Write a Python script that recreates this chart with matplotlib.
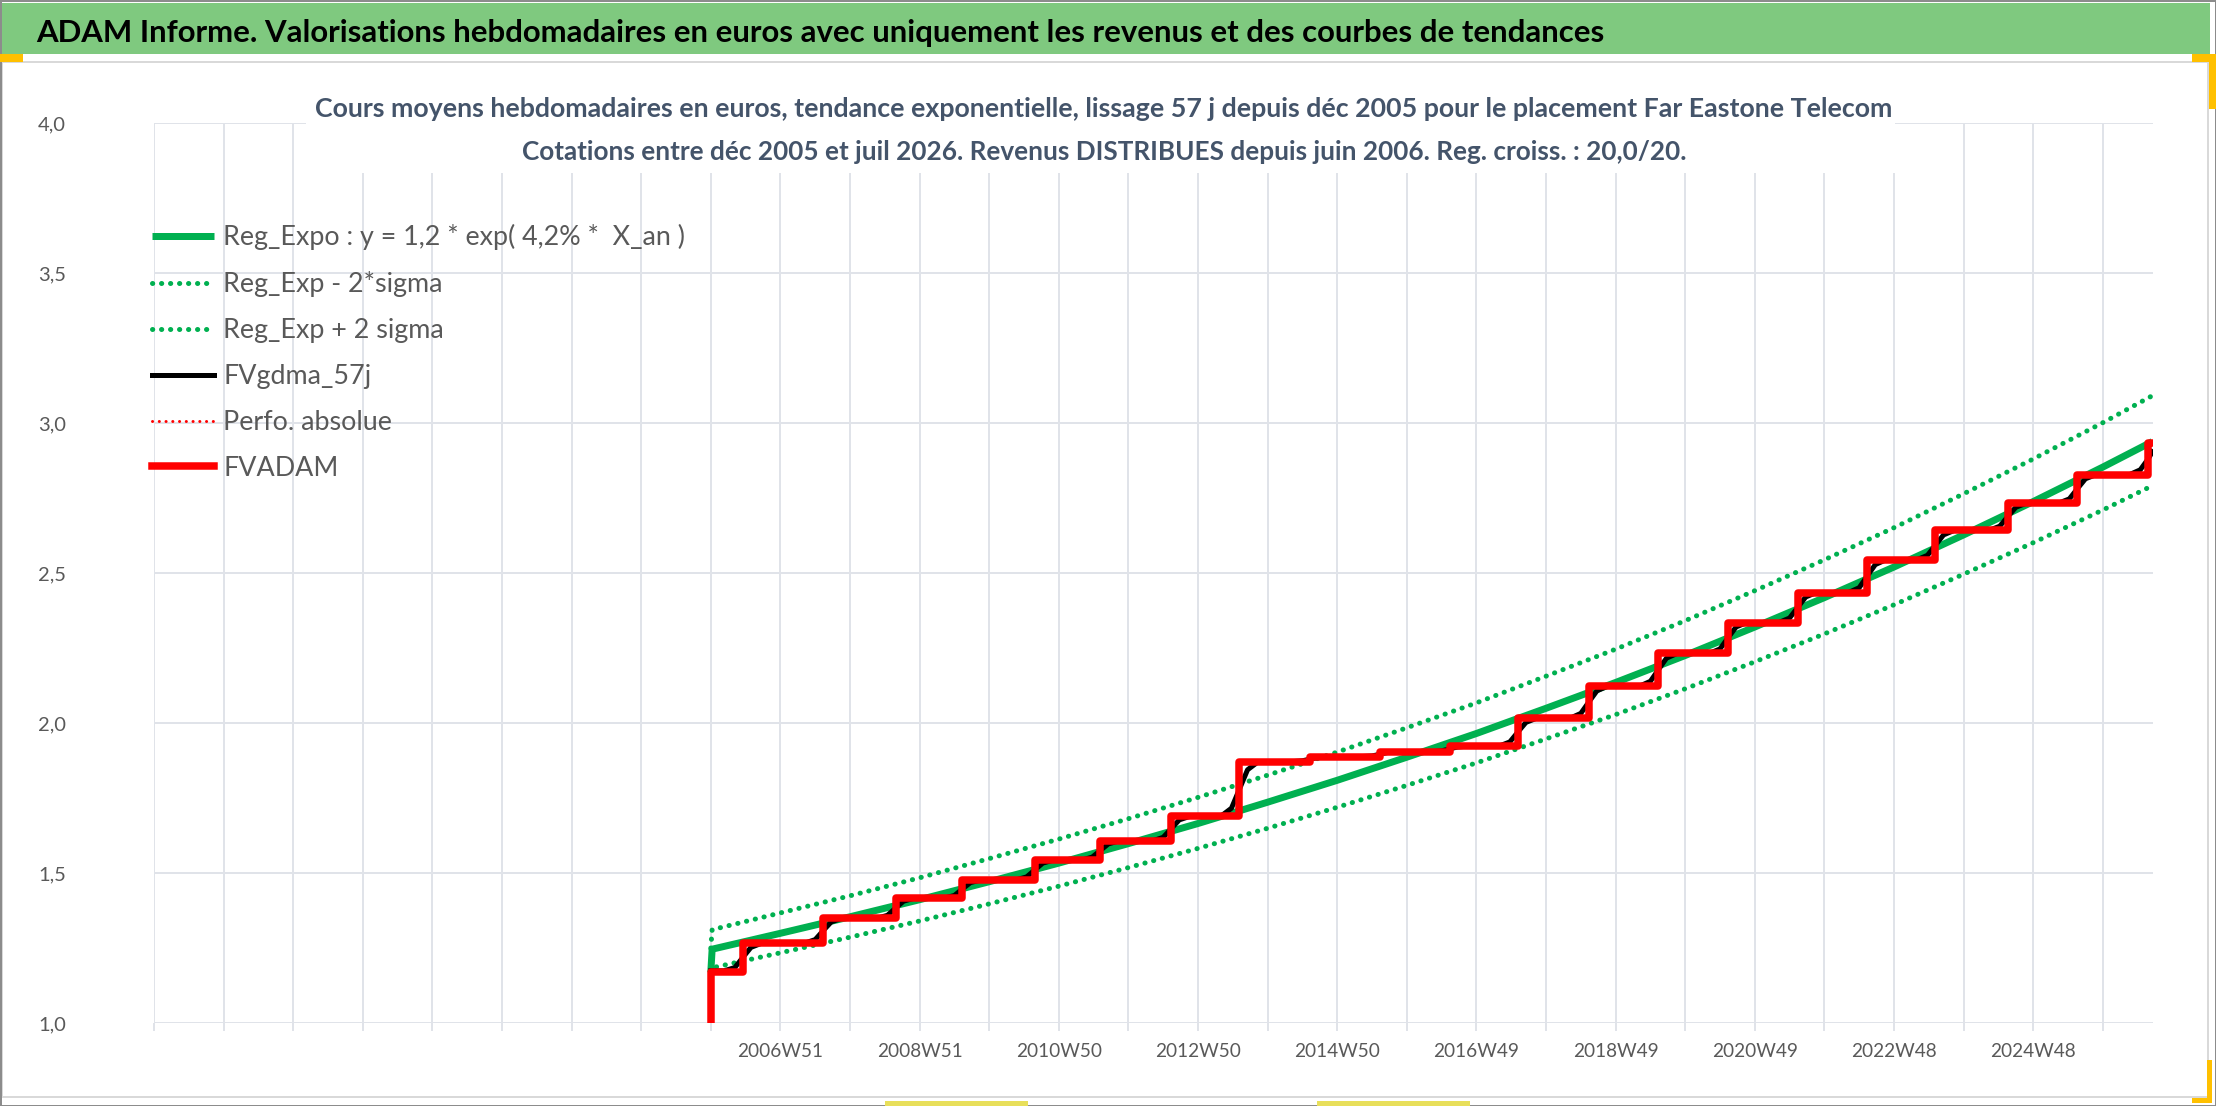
import numpy as np
import matplotlib
matplotlib.use("Agg")
import matplotlib.pyplot as plt
from matplotlib.patches import Rectangle

plt.rcParams['font.family'] = ['Lato', 'DejaVu Sans']

W, H = 2216, 1106  # output size in pixels

# category axis: one slot per week, slot 0 = 1997W51 (weeks before the quotes are empty)
n_weeks = 1494
grid_weeks = list(range(0, 1457, 52))
label_weeks = [468, 572, 676, 780, 884, 988, 1092, 1196, 1300, 1404]
week_labels = ["2006W51", "2008W51", "2010W50", "2012W50", "2014W50",
               "2016W49", "2018W49", "2020W49", "2022W48", "2024W48"]

# FVADAM: level after each yearly distribution (steps)
start_week = 416
start_value = 1.0
step_weeks = [440, 500, 554, 604, 658, 707, 760, 811, 864, 916, 968, 1019,
              1072, 1124, 1176, 1228, 1280, 1331, 1385, 1437, 1490]
step_values = [1.172, 1.267, 1.350, 1.417, 1.478, 1.544, 1.608, 1.690, 1.872,
               1.889, 1.905, 1.924, 2.017, 2.124, 2.233, 2.336, 2.436, 2.545,
               2.643, 2.734, 2.829, 2.935]
end_week = 1493

# exponential trend and +/- 2 sigma band, read at the yearly gridlines
trend_weeks = [416, 417, 468, 520, 572, 624, 676, 728, 780, 832, 884, 936, 988,
               1040, 1092, 1144, 1196, 1248, 1300, 1352, 1404, 1456, 1493]
reg_expo = [1.17, 1.247, 1.300, 1.355, 1.412, 1.472, 1.534, 1.599, 1.666, 1.737,
            1.810, 1.887, 1.966, 2.050, 2.136, 2.226, 2.321, 2.419, 2.521, 2.628,
            2.739, 2.854, 2.939]
reg_plus = [1.25, 1.312, 1.368, 1.425, 1.485, 1.549, 1.614, 1.682, 1.753, 1.827,
            1.904, 1.985, 2.068, 2.157, 2.247, 2.342, 2.442, 2.545, 2.652, 2.765,
            2.881, 3.002, 3.092]
reg_minus = [1.17, 1.185, 1.235, 1.287, 1.341, 1.398, 1.457, 1.519, 1.583, 1.650,
             1.720, 1.793, 1.868, 1.948, 2.029, 2.115, 2.205, 2.298, 2.395, 2.497,
             2.602, 2.711, 2.792]

# FVgdma_57j (smoothed curve), key points around each step
gdma_weeks = [416,
              426, 434, 440, 446, 454,
              486, 494, 500, 506, 514,
              540, 548, 554, 560, 568,
              590, 598, 604, 610, 618,
              644, 652, 658, 664, 672,
              693, 701, 707, 713, 721,
              746, 754, 760, 766, 774,
              797, 805, 811, 817, 825,
              850, 858, 864, 870, 878,
              902, 910, 916, 922, 930,
              954, 962, 968, 974, 982,
              1005, 1013, 1019, 1025, 1033,
              1058, 1066, 1072, 1078, 1086,
              1110, 1118, 1124, 1130, 1138,
              1162, 1170, 1176, 1182, 1190,
              1214, 1222, 1228, 1234, 1242,
              1266, 1274, 1280, 1286, 1294,
              1317, 1325, 1331, 1337, 1345,
              1371, 1379, 1385, 1391, 1399,
              1423, 1431, 1437, 1443, 1451,
              1476, 1484, 1490, 1493]
gdma_values = [1.175,
               1.175, 1.186, 1.220, 1.253, 1.267,
               1.267, 1.279, 1.309, 1.338, 1.350,
               1.350, 1.360, 1.384, 1.407, 1.417,
               1.417, 1.426, 1.448, 1.469, 1.478,
               1.478, 1.488, 1.511, 1.534, 1.544,
               1.544, 1.554, 1.576, 1.598, 1.608,
               1.608, 1.620, 1.649, 1.678, 1.690,
               1.690, 1.717, 1.781, 1.845, 1.872,
               1.872, 1.875, 1.881, 1.886, 1.889,
               1.889, 1.891, 1.897, 1.903, 1.905,
               1.905, 1.908, 1.915, 1.921, 1.924,
               1.924, 1.938, 1.971, 2.003, 2.017,
               2.017, 2.033, 2.071, 2.108, 2.124,
               2.124, 2.140, 2.179, 2.217, 2.233,
               2.233, 2.248, 2.285, 2.321, 2.336,
               2.336, 2.351, 2.386, 2.421, 2.436,
               2.436, 2.452, 2.491, 2.529, 2.545,
               2.545, 2.560, 2.594, 2.628, 2.643,
               2.643, 2.657, 2.689, 2.720, 2.734,
               2.734, 2.748, 2.782, 2.815, 2.829,
               2.829, 2.845, 2.882, 2.905]

y_ticks = [1.0, 1.5, 2.0, 2.5, 3.0, 3.5, 4.0]
y_labels = ["1,0", "1,5", "2,0", "2,5", "3,0", "3,5", "4,0"]

labels = ["Reg_Expo : y = 1,2 * exp( 4,2% *  X_an )", "Reg_Exp - 2*sigma",
          "Reg_Exp + 2 sigma", "FVgdma_57j", "Perfo. absolue", "FVADAM"]

main_title = ("ADAM Informe. Valorisations hebdomadaires en euros avec uniquement "
              "les revenus et des courbes de tendances")
title1 = ("Cours moyens hebdomadaires en euros, tendance exponentielle, lissage 57 j "
          "depuis déc 2005 pour le placement Far Eastone Telecom")
title2 = ("Cotations entre déc 2005 et juil 2026. Revenus DISTRIBUES depuis juin 2006. "
          "Reg. croiss. : 20,0/20.")

GREEN = "#00B050"
RED = "#FF0000"
GRID = "#E0E3E9"
TXT = "#595959"
TITLE_C = "#44546A"

px = 72.0 / 100  # points per pixel at dpi 100

fig = plt.figure(figsize=(W / 100, H / 100), dpi=100)
renderer = fig.canvas.get_renderer()


def fx(x):
    return x / W


def fy(y):
    return 1 - y / H


def size_for(s, width_px, weight="normal"):
    t = fig.text(0, 0, s, fontsize=20, weight=weight)
    w = t.get_window_extent(renderer).width
    t.remove()
    return 20 * width_px / w


# plot area
ax = fig.add_axes([fx(154), fy(1023.3), fx(2153 - 154), 900 / H])
ax.set_xlim(0, n_weeks - 0.5)
ax.set_ylim(1.0, 4.0)

dots = (0, (0.05, 1.75))
ax.plot(trend_weeks, reg_expo, color=GREEN, lw=7 * px, solid_capstyle="butt",
        label=labels[0], zorder=3)
ax.plot(trend_weeks, reg_minus, color=GREEN, lw=5 * px, ls=dots,
        dash_capstyle="round", label=labels[1], zorder=3)
ax.plot(trend_weeks, reg_plus, color=GREEN, lw=5 * px, ls=dots,
        dash_capstyle="round", label=labels[2], zorder=3)
ax.plot(gdma_weeks, gdma_values, color="black", lw=5 * px, label=labels[3], zorder=4)
ax.plot([], [], color=RED, lw=3 * px, ls=(0, (0.05, 2.2)), dash_capstyle="round",
        label=labels[4])
ax.step([start_week, start_week] + step_weeks + [end_week],
        [start_value] + step_values + [step_values[-1]], where="post",
        color=RED, lw=7.5 * px, label=labels[5], zorder=5)

for s in ax.spines.values():
    s.set_visible(False)
ax.set_xticks(grid_weeks)
tick_text = dict(zip(label_weeks, week_labels))
ax.set_xticklabels([tick_text.get(w, "") for w in grid_weeks])
ax.set_yticks(y_ticks)
ax.set_yticklabels(y_labels)
ax.grid(True, color=GRID, lw=2 * px)
ax.set_axisbelow(True)

xt_size = size_for("2006W51", 86)
yt_size = size_for("4,0", 28)
ax.tick_params(axis="x", length=8 * px, width=2 * px, color=GRID, pad=12 * px,
               labelsize=xt_size, labelcolor=TXT)
ax.tick_params(axis="y", length=0, pad=(154 - 66) * px, labelsize=yt_size,
               labelcolor=TXT)

leg_size = size_for(labels[0], 462)
leg = ax.legend(loc="upper left", bbox_to_anchor=(fx(152), fy(224)),
                bbox_transform=fig.transFigure, frameon=False, fontsize=leg_size,
                handlelength=62 * px / leg_size, handletextpad=9 * px / leg_size,
                labelspacing=0.78, borderpad=0, borderaxespad=0)
for t in leg.get_texts():
    t.set_color(TXT)

# chart title block (white box hides the grid)
fig.patches.append(Rectangle((fx(306), fy(173)), fx(1895 - 306), (173 - 90) / H,
                             transform=fig.transFigure, facecolor="white",
                             edgecolor="none", zorder=1))
fig.text(fx(1104), fy(117), title1, ha="center", va="baseline", weight="bold",
         color=TITLE_C, fontsize=size_for(title1, 1578, "bold"), zorder=3)
fig.text(fx(1104), fy(160), title2, ha="center", va="baseline", weight="bold",
         color=TITLE_C, fontsize=size_for(title2, 1165, "bold"), zorder=3)

# banner
fig.patches.append(Rectangle((0, fy(54)), fx(2210), 51 / H, transform=fig.transFigure,
                             facecolor="#7FC97F", edgecolor="none", zorder=1))
fig.text(fx(36), fy(42), main_title, ha="left", va="baseline", weight="bold",
         color="black", fontsize=size_for(main_title, 1568, "bold"), zorder=3)

# chart area frame and outer border
fig.patches.append(Rectangle((fx(2), fy(1097)), fx(2206), (1097 - 62) / H,
                             transform=fig.transFigure, facecolor="none",
                             edgecolor="#D9D9D9", lw=2 * px, zorder=1))
fig.patches.append(Rectangle((0, 0), 1, 1, transform=fig.transFigure, facecolor="none",
                             edgecolor="#8C8C8C", lw=3 * px, zorder=2))

# selection handles
for (x0, y0, w, h, c) in [(0, 54, 23, 8, "#FFC000"), (2192, 54, 24, 8, "#FFC000"),
                          (2209, 54, 7, 55, "#FFC000"), (2192, 1098, 20, 5, "#FFC000"),
                          (2207, 1060, 5, 43, "#FFC000"), (885, 1101, 143, 5, "#E8DF5A"),
                          (1317, 1101, 153, 5, "#E8DF5A")]:
    fig.patches.append(Rectangle((fx(x0), fy(y0 + h)), fx(w), h / H,
                                 transform=fig.transFigure, facecolor=c,
                                 edgecolor="none", zorder=2))

fig.savefig("out.png", dpi=100, facecolor="white")
